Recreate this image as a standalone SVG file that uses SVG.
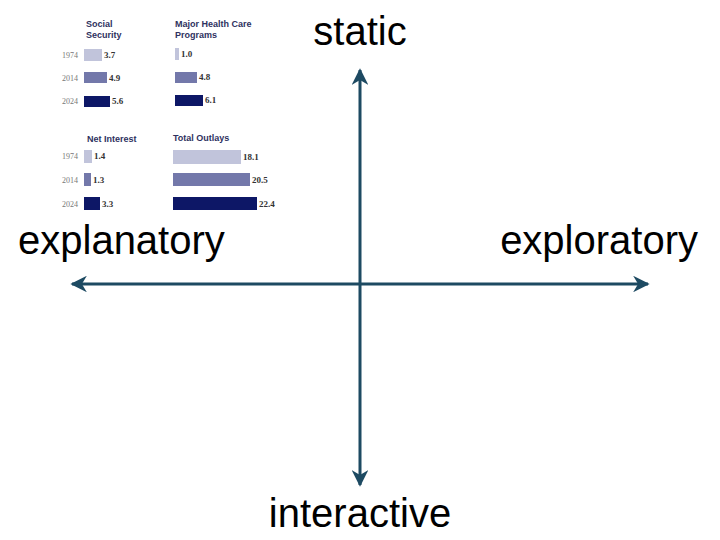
<svg xmlns="http://www.w3.org/2000/svg" width="720" height="540" viewBox="0 0 720 540">
<style>
.lbl{font-family:"Liberation Sans",Arial,sans-serif;font-size:40px;fill:#000}
.ttl{font-family:"Liberation Sans",Arial,sans-serif;font-size:9px;font-weight:bold;fill:#2e3160}
.yr{font-family:"Liberation Serif",serif;font-size:8px;fill:#777}
.val{font-family:"Liberation Serif",serif;font-size:9px;font-weight:bold;fill:#333}
.c1{fill:#c1c4db}.c2{fill:#7378aa}.c3{fill:#0d1766}
.ax{stroke:#1d4a62;stroke-width:3;fill:none}
</style>
<defs>
<marker id="ah" viewBox="0 0 10 10" refX="9" refY="5" markerWidth="5.5" markerHeight="5.5" orient="auto-start-reverse" markerUnits="strokeWidth">
<path d="M0,0 L10,5 L0,10 L3,5 Z" fill="#1d4a62"/>
</marker>
</defs>
<g id="chart">
<text class="ttl" x="86" y="27">Social</text><text class="ttl" x="86" y="38">Security</text>
<text class="ttl" x="175" y="27">Major Health Care</text><text class="ttl" x="175" y="38">Programs</text>
<text class="yr" x="62" y="58">1974</text><text class="yr" x="62" y="81">2014</text><text class="yr" x="62" y="104">2024</text>
<rect class="c1" x="84" y="49" width="18" height="12"/><text class="val" x="104" y="58">3.7</text>
<rect class="c2" x="84" y="72" width="23" height="11"/><text class="val" x="109" y="81">4.9</text>
<rect class="c3" x="84" y="96" width="26" height="11"/><text class="val" x="112" y="104">5.6</text>
<rect class="c1" x="175" y="48" width="4" height="12"/><text class="val" x="181" y="57">1.0</text>
<rect class="c2" x="175" y="72" width="22" height="11"/><text class="val" x="199" y="80">4.8</text>
<rect class="c3" x="175" y="95" width="28" height="11"/><text class="val" x="205" y="103">6.1</text>
<text class="ttl" x="87" y="142">Net Interest</text><text class="ttl" x="173" y="141">Total Outlays</text>
<text class="yr" x="62" y="159">1974</text><text class="yr" x="62" y="183">2014</text><text class="yr" x="62" y="207">2024</text>
<rect class="c1" x="84" y="150" width="8" height="13"/><text class="val" x="94" y="159">1.4</text>
<rect class="c2" x="84" y="173" width="7" height="13"/><text class="val" x="93" y="183">1.3</text>
<rect class="c3" x="84" y="197" width="16" height="13"/><text class="val" x="102" y="207">3.3</text>
<rect class="c1" x="173" y="150" width="68" height="14"/><text class="val" x="243" y="160">18.1</text>
<rect class="c2" x="173" y="173" width="77" height="13"/><text class="val" x="252" y="183">20.5</text>
<rect class="c3" x="173" y="197" width="84" height="13"/><text class="val" x="259" y="207">22.4</text>
</g>
<g id="connectors">
<line class="ax" x1="360" y1="485" x2="360" y2="70" marker-start="url(#ah)" marker-end="url(#ah)"/>
<line class="ax" x1="72" y1="284" x2="648" y2="284" marker-start="url(#ah)" marker-end="url(#ah)"/>
</g>
<g id="static"><text class="lbl" x="360" y="45" text-anchor="middle">static</text></g>
<g id="explanatory"><text class="lbl" x="18" y="254">explanatory</text></g>
<g id="exploratory"><text class="lbl" x="698" y="254" text-anchor="end">exploratory</text></g>
<g id="interactive"><text class="lbl" x="360" y="527" text-anchor="middle">interactive</text></g>
</svg>
